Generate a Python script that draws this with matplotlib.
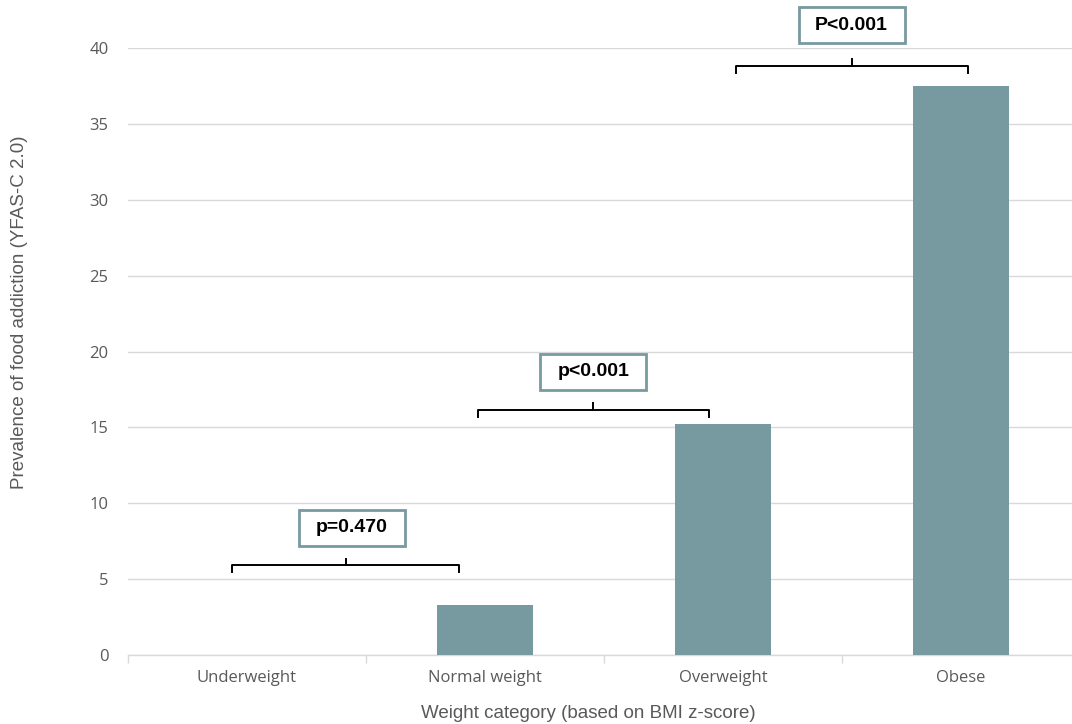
import matplotlib.pyplot as plt
import matplotlib.ticker as ticker
from matplotlib.patches import Rectangle
import numpy as np

# данные
categories = ['Underweight', 'Normal weight', 'Overweight', 'Obese']
prevalence = [0.0, 3.3, 15.2, 37.5]

# скобки сравнения: x слева, x справа, уровень y, текст, центр подписи
bracket_left = [-0.063, 0.97, 2.055]
bracket_right = [0.891, 1.94, 3.03]
bracket_y = [5.9, 16.15, 38.8]
p_labels = ['p=0.470', 'p<0.001', 'P<0.001']
label_x = [0.44, 1.455, 2.54]
label_y = [8.4, 18.65, 41.5]

bar_color = '#779AA1'
grid_color = '#D9D9D9'
text_color = '#595959'

fig = plt.figure(figsize=(10.72, 7.24), dpi=100)
ax = fig.add_axes([128 / 1072, 69 / 724, 944 / 1072, 607 / 724])

x = np.arange(len(categories))
ax.bar(x, prevalence, width=0.4, color=bar_color, zorder=3)

ax.set_ylim(0, 40)
xmax = -0.5 + 944 / 238
ax.yaxis.set_major_locator(ticker.MultipleLocator(5))
ax.grid(axis='y', color=grid_color, linewidth=1, zorder=0)
ax.tick_params(axis='y', length=0, pad=14, labelsize=12, labelcolor=text_color)
for lab in ax.get_yticklabels():
    lab.set_fontfamily('Open Sans')

ax.set_xticks(x)
ax.set_xticklabels(categories, fontfamily='Open Sans', fontsize=12, color=text_color)
ax.tick_params(axis='x', length=0, pad=11)
# разделители категорий
ax.set_xticks(np.arange(-0.5, len(categories)), minor=True)
ax.tick_params(axis='x', which='minor', length=6, color=grid_color, width=1)
ax.set_xlim(-0.5, xmax)

for s in ['top', 'right', 'left']:
    ax.spines[s].set_visible(False)
ax.spines['bottom'].set_color(grid_color)
ax.spines['bottom'].set_linewidth(1)

# скобки и подписи p
box_w = 106 / 238
box_h = 36 / 15.17
for xl, xr, yb, txt, tx, ty in zip(bracket_left, bracket_right, bracket_y,
                                   p_labels, label_x, label_y):
    xm = (xl + xr) / 2
    ax.plot([xl, xl, xr, xr], [yb - 0.45, yb, yb, yb - 0.45], color='black', lw=1.4,
            zorder=4, clip_on=False)
    ax.plot([xm, xm], [yb, yb + 0.45], color='black', lw=1.4, zorder=4, clip_on=False)
    ax.add_patch(Rectangle((tx - box_w / 2, ty - box_h / 2), box_w, box_h,
                           facecolor='white', edgecolor=bar_color, linewidth=2,
                           zorder=5, clip_on=False))
    ax.text(tx, ty, txt, ha='center', va='center', fontsize=14, fontweight='bold',
            fontfamily='Liberation Sans', zorder=6, clip_on=False)

fig.text(20 / 1072, 1 - 312 / 724, 'Prevalence of food addiction (YFAS-C 2.0)',
         rotation=90, ha='center', va='center', fontsize=13.5,
         fontfamily='Liberation Sans', color=text_color)
fig.text(588 / 1072, 1 - 713 / 724, 'Weight category (based on BMI z-score)',
         ha='center', va='center', fontsize=13.5,
         fontfamily='Liberation Sans', color=text_color)

fig.savefig('out.png', dpi=100)
